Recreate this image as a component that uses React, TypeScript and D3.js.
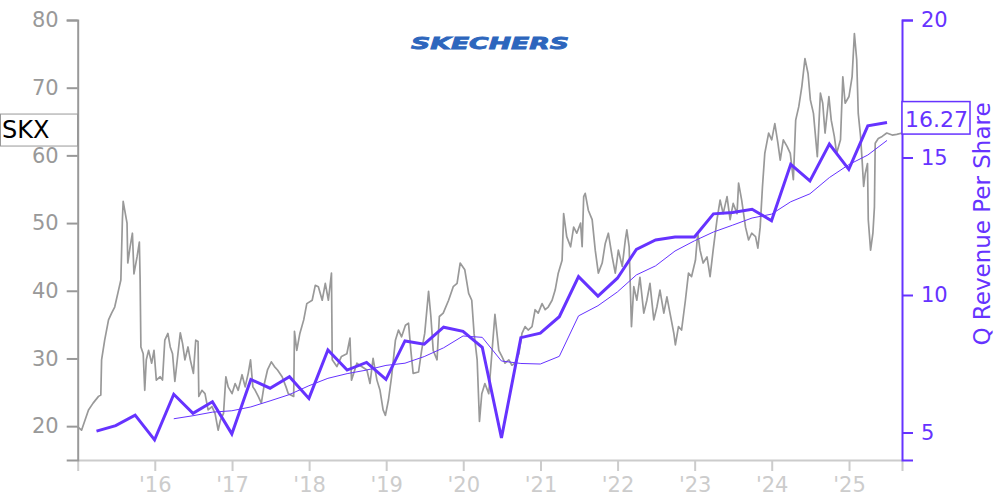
import React, { useEffect, useRef } from 'react';
import * as d3 from 'd3';

// Stock price (decimal year, price in $)
const priceSeries: [number, number][] = [
  [2015.0, 19.9], [2015.05, 19.4], [2015.14, 22.4], [2015.2, 23.4], [2015.27, 24.4], [2015.3, 24.6],
  [2015.31, 29.8], [2015.35, 32.7], [2015.4, 35.7], [2015.44, 36.7], [2015.48, 37.6], [2015.53, 40.1],
  [2015.56, 41.6], [2015.58, 50.5], [2015.59, 53.2], [2015.61, 51.9], [2015.64, 50.0], [2015.65, 44.1],
  [2015.68, 46.5], [2015.71, 48.5], [2015.73, 42.5], [2015.77, 45.0], [2015.8, 47.2], [2015.81, 41.6],
  [2015.82, 31.7], [2015.85, 30.7], [2015.87, 25.3], [2015.89, 29.8], [2015.92, 31.2], [2015.96, 29.3],
  [2015.99, 31.2], [2016.02, 26.8], [2016.07, 27.3], [2016.1, 26.8], [2016.13, 32.7], [2016.17, 33.7],
  [2016.2, 31.7], [2016.23, 30.7], [2016.26, 26.6], [2016.3, 30.7], [2016.33, 33.8], [2016.36, 32.2],
  [2016.39, 29.8], [2016.43, 31.7], [2016.46, 29.8], [2016.5, 27.8], [2016.53, 32.7], [2016.56, 32.5],
  [2016.57, 24.4], [2016.61, 25.3], [2016.65, 24.8], [2016.69, 22.4], [2016.74, 22.9], [2016.78, 21.9],
  [2016.82, 19.4], [2016.85, 20.9], [2016.89, 21.9], [2016.92, 27.3], [2016.95, 25.8], [2017.0, 24.8],
  [2017.04, 26.3], [2017.08, 25.3], [2017.13, 27.6], [2017.17, 25.8], [2017.21, 27.8], [2017.24, 29.8],
  [2017.27, 25.8], [2017.3, 25.3], [2017.34, 24.4], [2017.38, 23.4], [2017.42, 26.3], [2017.46, 28.3],
  [2017.51, 29.5], [2017.55, 28.8], [2017.59, 28.3], [2017.65, 27.3], [2017.7, 25.8], [2017.73, 24.8],
  [2017.8, 24.4], [2017.81, 34.0], [2017.84, 31.2], [2017.88, 33.7], [2017.93, 35.7], [2017.97, 38.1],
  [2018.04, 38.6], [2018.08, 40.8], [2018.12, 40.6], [2018.17, 38.6], [2018.21, 41.1], [2018.25, 38.6],
  [2018.29, 42.6], [2018.3, 29.8], [2018.36, 28.8], [2018.42, 30.3], [2018.49, 30.7], [2018.53, 33.0],
  [2018.55, 26.8], [2018.62, 29.3], [2018.68, 28.8], [2018.75, 28.3], [2018.79, 26.3], [2018.83, 30.0],
  [2018.88, 26.8], [2018.92, 25.3], [2018.96, 22.4], [2018.99, 21.6], [2019.03, 23.9], [2019.07, 27.3],
  [2019.12, 32.7], [2019.16, 34.2], [2019.2, 33.2], [2019.25, 34.9], [2019.29, 35.2], [2019.32, 31.2],
  [2019.35, 27.8], [2019.42, 28.0], [2019.46, 31.2], [2019.5, 33.7], [2019.55, 39.9], [2019.58, 36.2],
  [2019.61, 31.2], [2019.66, 29.8], [2019.69, 36.2], [2019.74, 36.7], [2019.81, 38.6], [2019.87, 40.6],
  [2019.92, 41.1], [2019.96, 44.1], [2020.02, 43.1], [2020.07, 39.6], [2020.11, 38.6], [2020.14, 33.7],
  [2020.18, 29.8], [2020.21, 20.7], [2020.24, 24.8], [2020.28, 26.3], [2020.33, 24.8], [2020.37, 30.7],
  [2020.41, 36.5], [2020.46, 31.2], [2020.5, 30.3], [2020.54, 29.3], [2020.59, 29.8], [2020.63, 29.0],
  [2020.67, 29.3], [2020.72, 30.7], [2020.76, 33.7], [2020.8, 34.7], [2020.84, 34.2], [2020.89, 34.7],
  [2020.93, 37.2], [2020.97, 36.7], [2021.02, 38.1], [2021.06, 37.2], [2021.1, 37.6], [2021.15, 38.6],
  [2021.19, 40.1], [2021.23, 42.6], [2021.28, 44.5], [2021.3, 51.4], [2021.34, 48.0], [2021.39, 46.5],
  [2021.43, 49.4], [2021.47, 48.5], [2021.52, 50.0], [2021.54, 46.5], [2021.56, 53.9], [2021.58, 54.4],
  [2021.62, 51.9], [2021.67, 50.5], [2021.71, 46.0], [2021.75, 42.6], [2021.8, 44.1], [2021.84, 47.0],
  [2021.88, 48.5], [2021.93, 45.0], [2021.97, 42.6], [2022.01, 46.0], [2022.06, 43.6], [2022.1, 47.5],
  [2022.12, 49.0], [2022.15, 46.5], [2022.18, 34.7], [2022.21, 40.6], [2022.25, 38.6], [2022.29, 42.0],
  [2022.34, 36.7], [2022.38, 38.6], [2022.42, 41.1], [2022.47, 35.7], [2022.51, 37.6], [2022.55, 40.1],
  [2022.6, 36.7], [2022.64, 39.1], [2022.68, 36.7], [2022.73, 33.7], [2022.75, 32.0], [2022.79, 34.7],
  [2022.83, 34.2], [2022.88, 38.6], [2022.92, 42.6], [2022.96, 42.1], [2023.01, 44.5], [2023.04, 48.5],
  [2023.07, 46.0], [2023.11, 44.1], [2023.16, 45.0], [2023.18, 43.6], [2023.2, 42.1], [2023.24, 46.0],
  [2023.29, 50.5], [2023.33, 53.4], [2023.37, 51.4], [2023.42, 53.9], [2023.46, 50.5], [2023.5, 52.9],
  [2023.55, 51.4], [2023.57, 55.9], [2023.61, 53.4], [2023.66, 49.4], [2023.7, 47.5], [2023.74, 48.5],
  [2023.79, 48.0], [2023.82, 46.3], [2023.85, 49.4], [2023.88, 55.4], [2023.91, 60.3], [2023.96, 63.3],
  [2024.0, 62.3], [2024.04, 64.7], [2024.08, 61.8], [2024.11, 59.3], [2024.15, 62.3], [2024.2, 61.3],
  [2024.24, 60.3], [2024.28, 56.4], [2024.31, 65.2], [2024.35, 67.2], [2024.39, 70.2], [2024.43, 74.3],
  [2024.47, 72.1], [2024.5, 68.2], [2024.54, 66.2], [2024.59, 59.8], [2024.63, 69.2], [2024.66, 67.7],
  [2024.69, 63.3], [2024.74, 68.7], [2024.77, 65.2], [2024.81, 62.8], [2024.84, 60.3], [2024.89, 62.3],
  [2024.92, 71.6], [2024.95, 67.7], [2025.0, 68.7], [2025.04, 71.6], [2025.07, 78.0], [2025.1, 74.1],
  [2025.12, 66.2], [2025.15, 62.8], [2025.17, 59.3], [2025.19, 55.4], [2025.21, 57.3], [2025.24, 58.8],
  [2025.25, 50.5], [2025.28, 46.0], [2025.31, 48.5], [2025.33, 52.4], [2025.34, 61.8], [2025.38, 62.5],
  [2025.43, 62.8], [2025.49, 63.3], [2025.56, 63.0], [2025.62, 63.1], [2025.69, 63.3],
];

// Quarterly revenue per share
const revQuarters = [
  '2015-03-31', '2015-06-30', '2015-09-30', '2015-12-31', '2016-03-31', '2016-06-30', '2016-09-30', '2016-12-31',
  '2017-03-31', '2017-06-30', '2017-09-30', '2017-12-31', '2018-03-31', '2018-06-30', '2018-09-30', '2018-12-31',
  '2019-03-31', '2019-06-30', '2019-09-30', '2019-12-31', '2020-03-31', '2020-06-30', '2020-09-30', '2020-12-31',
  '2021-03-31', '2021-06-30', '2021-09-30', '2021-12-31', '2022-03-31', '2022-06-30', '2022-09-30', '2022-12-31',
  '2023-03-31', '2023-06-30', '2023-09-30', '2023-12-31', '2024-03-31', '2024-06-30', '2024-09-30', '2024-12-31',
  '2025-03-31', '2025-06-30',
];
const revValues = [
  5.05, 5.25, 5.63, 4.73, 6.39, 5.70, 6.12, 4.95,
  6.93, 6.61, 7.03, 6.24, 8.00, 7.27, 7.55, 6.93,
  8.33, 8.21, 8.83, 8.68, 8.10, 4.80, 8.45, 8.61,
  9.21, 10.67, 9.96, 10.61, 11.66, 12.00, 12.11, 12.11,
  12.95, 13.00, 13.12, 12.70, 14.75, 14.15, 15.49, 14.57,
  16.15, 16.27,
];
// Trailing four-quarter average (starts Q1 2016)
const avgValues = [
  5.50, 5.61, 5.74, 5.79,
  5.93, 6.15, 6.38, 6.70, 6.97, 7.14, 7.27, 7.44,
  7.52, 7.76, 8.08, 8.51, 8.46, 7.60, 7.51, 7.49,
  7.77, 9.24, 9.61, 10.11, 10.73, 11.06, 11.60, 11.97,
  12.29, 12.54, 12.80, 12.94, 13.39, 13.68, 14.27, 14.74,
  15.09, 15.62,
];

const leftTicks = [20, 30, 40, 50, 60, 70, 80];
const rightTicks = [5, 10, 15, 20];
const yearTicks = ['2016', '2017', '2018', '2019', '2020', '2021', '2022', '2023', '2024', '2025'];
const yearLabels = ["'16", "'17", "'18", "'19", "'20", "'21", "'22", "'23", "'24", "'25"];

const tickerLabel = 'SKX';
const lastRevLabel = '16.27';
const rightTitle = 'Q Revenue Per Share';
const logoText = 'SKECHERS';

const W = 1000;
const H = 500;
const PURPLE = '#6633ff';
const FONT = 'DejaVu Sans, sans-serif';

const decToDate = (d: number) => {
  const y = Math.floor(d);
  const s = new Date(y, 0, 1).getTime();
  const e = new Date(y + 1, 0, 1).getTime();
  return new Date(s + (d - y) * (e - s));
};
const parse = d3.timeParse('%Y-%m-%d');

export default function App() {
  const ref = useRef<SVGSVGElement>(null);

  useEffect(() => {
    const svg = d3.select(ref.current);
    svg.selectAll('*').remove();

    const x = d3.scaleTime().domain([new Date(2015, 0, 1), new Date(2025, 8, 9)]).range([77.7, 902]);
    const yL = d3.scaleLinear().domain([15, 80]).range([460, 20]);
    const yR = d3.scaleLinear().domain([4, 20]).range([460, 20]);

    // bottom axis
    const gx = svg.append('g').attr('transform', 'translate(0,460)')
      .call(d3.axisBottom(x).tickValues(yearTicks.map(y => new Date(+y, 0, 1))).tickSize(11).tickPadding(6)
        .tickFormat((_d, i) => yearLabels[i]));
    gx.selectAll('path,line').attr('stroke', '#cccccc').attr('stroke-width', 2);
    gx.selectAll('text').attr('fill', '#cccccc').attr('font-size', 21).attr('font-family', FONT);

    // left axis
    const gl = svg.append('g').attr('transform', 'translate(77.7,0)')
      .call(d3.axisLeft(yL).tickValues(leftTicks).tickSize(11).tickPadding(8));
    gl.selectAll('path,line').attr('stroke', '#999999').attr('stroke-width', 2);
    gl.selectAll('text').attr('fill', '#999999').attr('font-size', 21).attr('font-family', FONT);

    // right axis
    const gr = svg.append('g').attr('transform', 'translate(902,0)')
      .call(d3.axisRight(yR).tickValues(rightTicks).tickSize(11).tickPadding(8));
    gr.selectAll('path,line').attr('stroke', PURPLE).attr('stroke-width', 2);
    gr.selectAll('text').attr('fill', PURPLE).attr('font-size', 21).attr('font-family', FONT);

    svg.selectAll('.domain').attr('fill', 'none');

    // price line
    const priceLine = d3.line<[number, number]>()
      .x(d => x(decToDate(d[0])))
      .y(d => yL(d[1]));
    svg.append('path').datum(priceSeries).attr('d', priceLine)
      .attr('fill', 'none').attr('stroke', '#999999').attr('stroke-width', 1.7).attr('stroke-linejoin', 'round');

    // trailing average
    const avgData = avgValues.map((v, i) => ({ d: parse(revQuarters[i + 4])!, v }));
    const revLine = d3.line<{ d: Date; v: number }>().x(p => x(p.d)).y(p => yR(p.v));
    svg.append('path').datum(avgData).attr('d', revLine)
      .attr('fill', 'none').attr('stroke', PURPLE).attr('stroke-width', 1);

    // quarterly revenue
    const revData = revValues.map((v, i) => ({ d: parse(revQuarters[i])!, v }));
    svg.append('path').datum(revData).attr('d', revLine)
      .attr('fill', 'none').attr('stroke', PURPLE).attr('stroke-width', 3).attr('stroke-linejoin', 'miter');

    // left ticker box
    const lastPrice = priceSeries[priceSeries.length - 1][1];
    const ly = yL(lastPrice);
    svg.append('rect').attr('x', 0.5).attr('y', ly - 19).attr('width', 77).attr('height', 32)
      .attr('fill', 'white').attr('stroke', '#999999').attr('stroke-width', 1);
    svg.append('text').attr('x', 2).attr('y', ly + 5).text(tickerLabel)
      .attr('font-size', 24).attr('font-family', FONT).attr('fill', '#000');

    // right value box
    const ry = yR(revValues[revValues.length - 1]);
    svg.append('rect').attr('x', 902).attr('y', ry - 21).attr('width', 68).attr('height', 32.5)
      .attr('fill', 'white').attr('stroke', PURPLE).attr('stroke-width', 1.5);
    svg.append('text').attr('x', 905).attr('y', ry + 4).text(lastRevLabel)
      .attr('font-size', 22).attr('font-family', FONT).attr('fill', PURPLE);

    // right title
    svg.append('text').attr('transform', `translate(990,224) rotate(-90)`)
      .attr('text-anchor', 'middle').text(rightTitle)
      .attr('font-size', 23).attr('font-family', FONT).attr('fill', PURPLE);

    // logo
    svg.append('text').attr('x', 411).attr('y', 49).text(logoText)
      .attr('font-size', 16).attr('font-family', FONT).attr('font-weight', 'bold').attr('font-style', 'italic')
      .attr('textLength', 158).attr('lengthAdjust', 'spacingAndGlyphs')
      .attr('fill', '#2d66bd').attr('stroke', '#2d66bd').attr('stroke-width', 0.8);
  }, []);

  return (
    <svg ref={ref} width={W} height={H}
      style={{ position: 'absolute', left: 0, top: 0, background: 'white' }} />
  );
}
